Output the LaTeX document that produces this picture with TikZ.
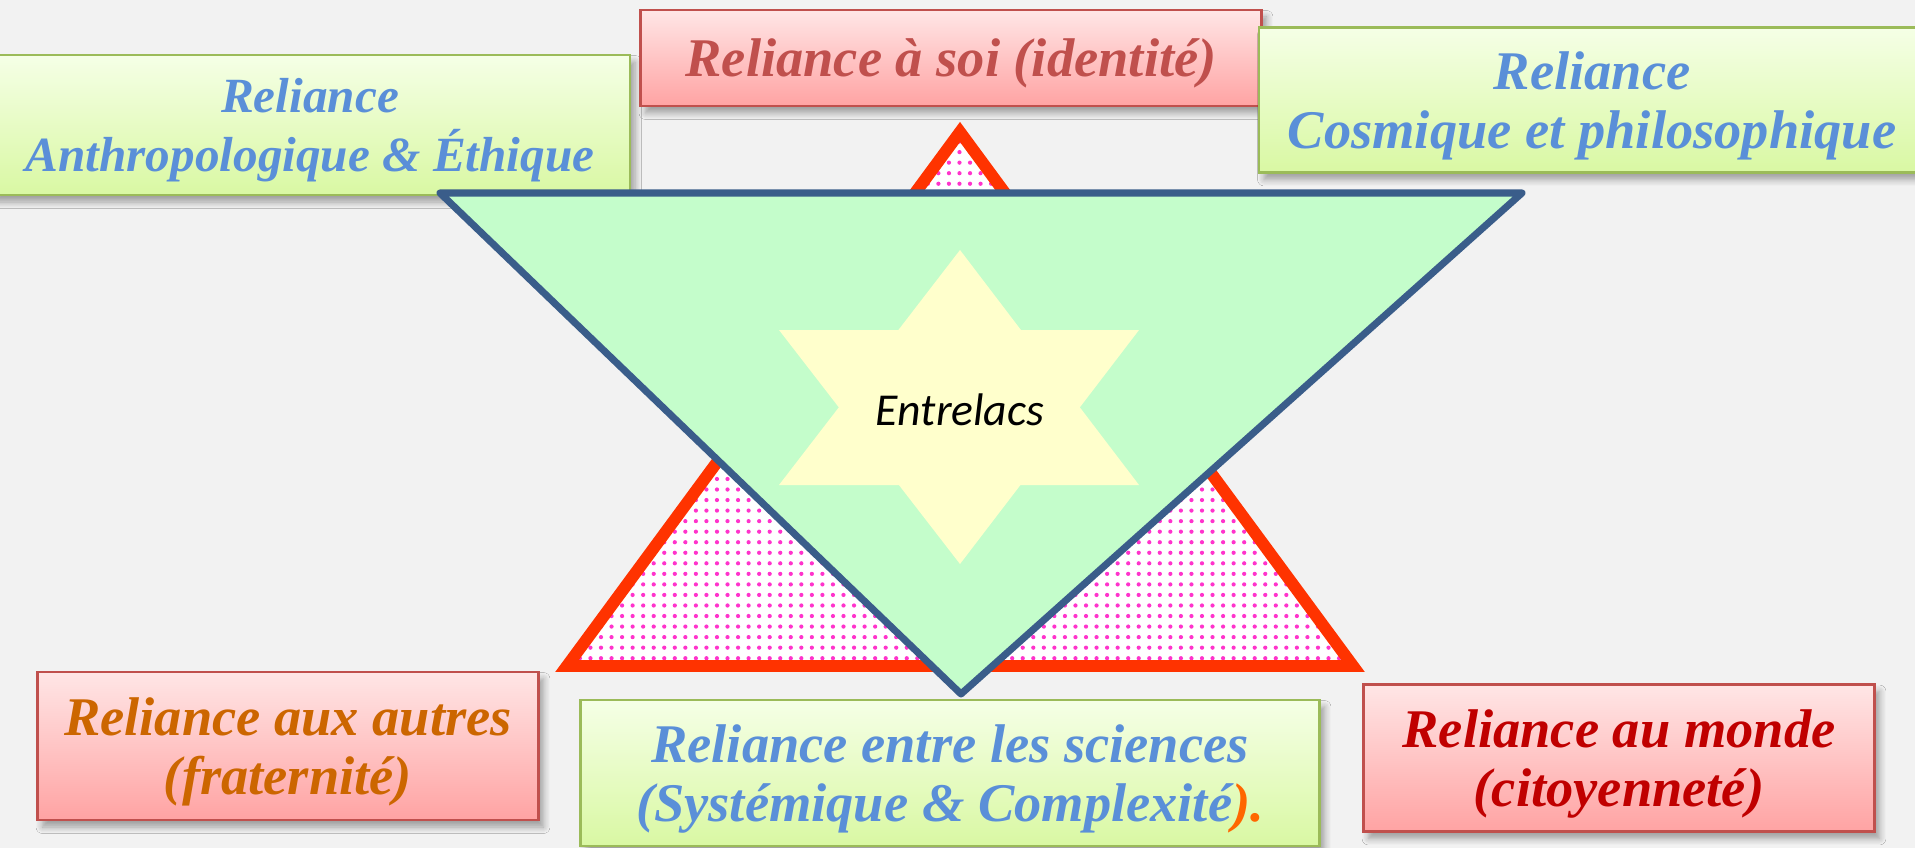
\documentclass[tikz,border=0pt]{standalone}
\usepackage{fontspec}
\setmainfont{Liberation Serif}
\newfontfamily\calibri{Carlito}
\usetikzlibrary{positioning, patterns, shadows.blur}

\definecolor{fond}{HTML}{F2F2F2}
\definecolor{rosehaut}{HTML}{FFE6E6}
\definecolor{rosebas}{HTML}{FFA3A3}
\definecolor{bordrose}{HTML}{C0504D}
\definecolor{verthaut}{HTML}{F5FFE6}
\definecolor{vertbas}{HTML}{D9F8A3}
\definecolor{bordvert}{HTML}{9BBB59}
\definecolor{bleutxt}{HTML}{5A8FD8}
\definecolor{orangetxt}{HTML}{CC6600}
\definecolor{rougetxt}{HTML}{C00000}
\definecolor{orangevif}{HTML}{FF6600}
\definecolor{rougetri}{HTML}{FF3300}
\definecolor{pointrose}{HTML}{FF33CC}
\definecolor{verttri}{HTML}{C4FDCB}
\definecolor{bleutri}{HTML}{3A5D8A}
\definecolor{etoile}{HTML}{FFFFCC}

% points roses du triangle
\pgfdeclarepatternformonly{grospoints}{\pgfqpoint{-1pt}{-1pt}}{\pgfqpoint{1pt}{1pt}}{\pgfqpoint{3pt}{3pt}}{%
	\pgfpathcircle{\pgfqpoint{0pt}{0pt}}{0.6pt}\pgfusepath{fill}}

\begin{document}
\begin{tikzpicture}[x=0.1mm, y=-0.1mm,
	boite/.style={rectangle, inner sep=0pt, line width=0.8pt, align=center, text depth=0pt, font=\fontsize{15.5}{17}\selectfont\bfseries\itshape, blur shadow={shadow xshift=0.5mm, shadow yshift=-0.7mm, shadow blur steps=6, shadow opacity=35}},
	rose/.style={boite, draw=bordrose, top color=rosehaut, bottom color=rosebas},
	vert/.style={boite, draw=bordvert, top color=verthaut, bottom color=vertbas, text=bleutxt}]
		\useasboundingbox (0,0) rectangle (1915,848);
		\fill[fond] (0,0) rectangle (1915,848);
		% les six reliances
		\node[vert, minimum width=64mm, minimum height=14mm, font=\fontsize{14}{17}\selectfont\bfseries\itshape] (anthro) at (310,125) {Reliance\\Anthropologique \& Éthique};
		\node[rose, minimum width=62.1mm, minimum height=9.6mm, text=bordrose] (soi) at (951,58) {Reliance à soi (identité)};
		\node[vert, minimum width=66.6mm, minimum height=14.5mm] (cosmique) at (1592,100) {Reliance\\Cosmique et philosophique};
		\node[rose, minimum width=50.1mm, minimum height=14.8mm, text=orangetxt] (autres) at (288,746) {Reliance aux autres\\(fraternité)};
		\node[vert, minimum width=73.9mm, minimum height=14.6mm] (sciences) at (950,773) {Reliance entre les sciences\\(Systémique \& Complexité{\color{orangevif}).}};
		\node[rose, minimum width=51.1mm, minimum height=14.7mm, text=rougetxt] (monde) at (1619,758) {Reliance au monde\\(citoyenneté)};
		% triangles
		\draw[rougetri, line width=3.4pt, preaction={fill=white}, pattern=grospoints, pattern color=pointrose] (960,132) -- (567,666) -- (1353,666) -- cycle;
		\draw[bleutri, line width=2pt, line join=round, fill=verttri] (440,193) -- (1522,193) -- (961,694) -- cycle;
		\fill[etoile] (960,250) -- (779,485) -- (1139,485) -- cycle;
		\fill[etoile] (960,564) -- (779,330) -- (1139,330) -- cycle;
		\node[font=\calibri\itshape\fontsize{13}{15}\selectfont] (entrelacs) at (960,410) {Entrelacs};
	\end{tikzpicture}
\end{document}
